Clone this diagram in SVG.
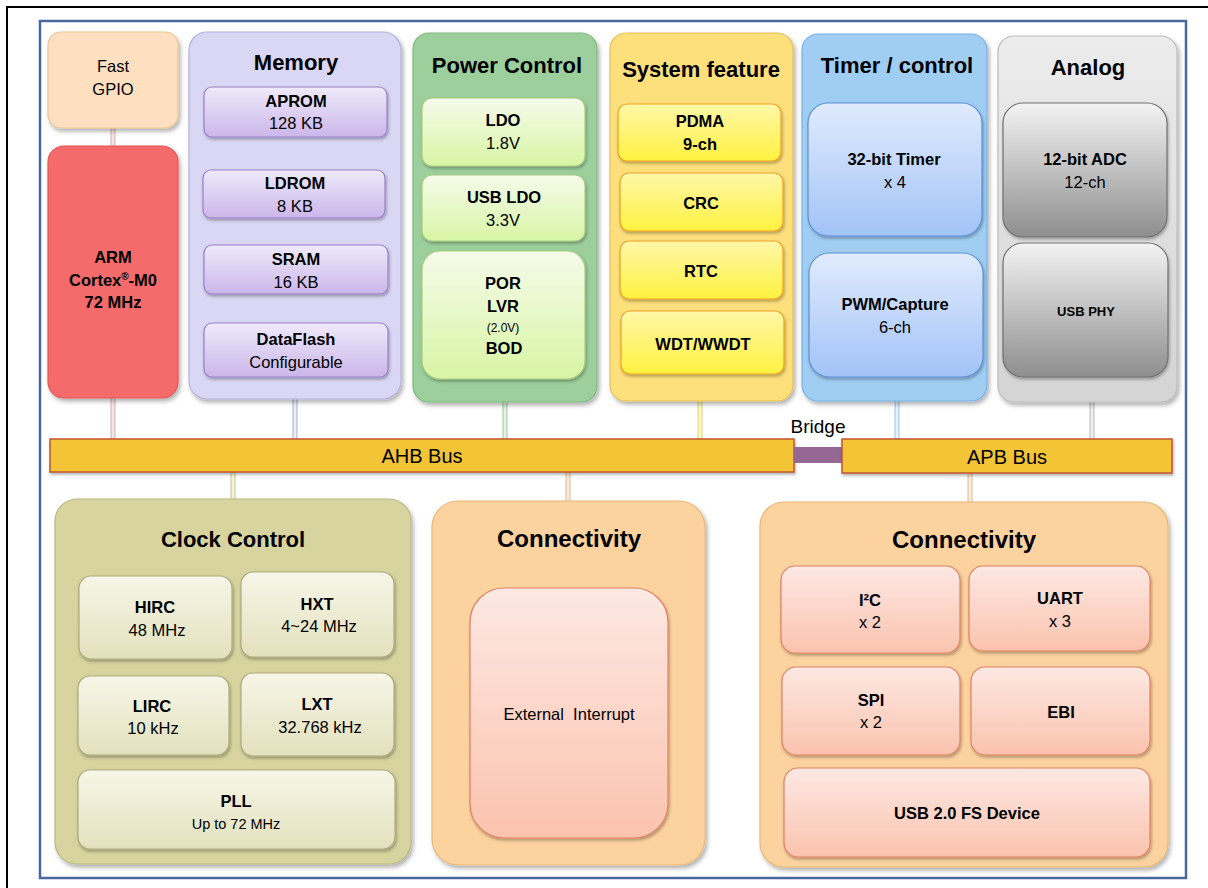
<svg xmlns="http://www.w3.org/2000/svg" width="1208" height="888" viewBox="0 0 1208 888">
<style>
text{font-family:"Liberation Sans",Arial,sans-serif;fill:#000;text-anchor:middle}
.t{font-size:22px;font-weight:bold}
.b{font-size:16.5px;font-weight:bold}
.r{font-size:16.5px}
.bus{font-size:20px}
.cont{filter:url(#sh)}
.sub{filter:url(#sh2)}
</style>
<defs>
<filter id="sh" x="-10%" y="-10%" width="130%" height="130%">
<feDropShadow dx="2" dy="3" stdDeviation="2" flood-color="#000" flood-opacity="0.3"/>
</filter>
<filter id="sh2" x="-10%" y="-10%" width="130%" height="140%">
<feDropShadow dx="1" dy="2" stdDeviation="1.5" flood-color="#000" flood-opacity="0.3"/>
</filter>
<linearGradient id="gMem" x1="0" y1="0" x2="0" y2="1"><stop offset="0" stop-color="#efeafa"/><stop offset="1" stop-color="#cbb6ea"/></linearGradient>
<linearGradient id="gPow" x1="0" y1="0" x2="0" y2="1"><stop offset="0" stop-color="#f5fbea"/><stop offset="1" stop-color="#d8f5a4"/></linearGradient>
<linearGradient id="gSys" x1="0" y1="0" x2="0" y2="1"><stop offset="0" stop-color="#fff7a8"/><stop offset="1" stop-color="#fff240"/></linearGradient>
<linearGradient id="gTim" x1="0" y1="0" x2="0" y2="1"><stop offset="0" stop-color="#e0ebfd"/><stop offset="1" stop-color="#a3c3f7"/></linearGradient>
<linearGradient id="gAna" x1="0" y1="0" x2="0" y2="1"><stop offset="0" stop-color="#f4f4f4"/><stop offset="1" stop-color="#8e8e8e"/></linearGradient>
<linearGradient id="gAnaC" x1="0" y1="0" x2="0" y2="1"><stop offset="0" stop-color="#ececec"/><stop offset="1" stop-color="#d4d4d4"/></linearGradient>
<linearGradient id="gClk" x1="0" y1="0" x2="0" y2="1"><stop offset="0" stop-color="#f7f6e8"/><stop offset="1" stop-color="#e3e1bd"/></linearGradient>
<linearGradient id="gCon" x1="0" y1="0" x2="0" y2="1"><stop offset="0" stop-color="#fde8e3"/><stop offset="1" stop-color="#fbc3ae"/></linearGradient>
</defs>

<rect x="7" y="7" width="1220" height="900" fill="#fff" stroke="#000" stroke-width="2"/>
<rect x="40" y="21" width="1146" height="857" fill="#fff" stroke="#48699c" stroke-width="2.5"/>

<g id="connectors">
<rect x="111" y="126" width="4" height="22" fill="#f5e4e4" stroke="#c8a0a0" stroke-width="0.8"/>
<rect x="111" y="396" width="4" height="45" fill="#f5e4e4" stroke="#c8a0a0" stroke-width="0.8"/>
<rect x="293" y="397" width="4" height="44" fill="#eeeef8" stroke="#9898c0" stroke-width="0.8"/>
<rect x="503" y="400" width="4" height="41" fill="#e4f4e4" stroke="#88b888" stroke-width="0.8"/>
<rect x="698" y="399" width="4" height="42" fill="#fdf8c0" stroke="#d8c860" stroke-width="0.8"/>
<rect x="895" y="399" width="4" height="42" fill="#e6f2fc" stroke="#88b4dc" stroke-width="0.8"/>
<rect x="1090" y="400" width="4" height="41" fill="#f0f0f0" stroke="#a8a8a8" stroke-width="0.8"/>
<rect x="231" y="470" width="4" height="32" fill="#f4f2dc" stroke="#b8b488" stroke-width="0.8"/>
<rect x="566" y="470" width="4" height="33" fill="#fcecd8" stroke="#d0a880" stroke-width="0.8"/>
<rect x="968" y="471" width="4" height="33" fill="#fcecd8" stroke="#d0a880" stroke-width="0.8"/>
</g>

<g id="ahb-bus">
<rect x="50" y="439" width="744" height="33" fill="#f3c436" stroke="#c0562c" stroke-width="1.5" class="sub"/>
<text x="422" y="463" class="bus">AHB Bus</text>
</g>
<g id="bridge">
<rect x="794" y="447" width="48" height="16" fill="#956793"/>
<text x="818" y="433" style="font-size:19px">Bridge</text>
</g>
<g id="apb-bus">
<rect x="842" y="439" width="330" height="34" fill="#f3c436" stroke="#c0562c" stroke-width="1.5" class="sub"/>
<text x="1007" y="464" class="bus">APB Bus</text>
</g>

<g id="fast-gpio">
<rect x="48" y="32" width="130" height="96" rx="13" fill="#fee0c0" stroke="#ebc594" stroke-width="1.2" class="cont"/>
<text x="113" y="72" class="r">Fast</text>
<text x="113" y="95" class="r">GPIO</text>
</g>

<g id="arm">
<rect x="48" y="146" width="130" height="252" rx="16" fill="#f56a6a" stroke="#e25656" stroke-width="1.2" class="cont"/>
<text x="113" y="263" class="b">ARM</text>
<text x="113" y="286" class="b">Cortex<tspan font-size="10" dy="-6">®</tspan><tspan dy="6">-M0</tspan></text>
<text x="113" y="308" class="b">72 MHz</text>
</g>

<g id="memory">
<rect x="189" y="32" width="212" height="367" rx="18" fill="#d9d7f3" stroke="#b6b2dc" stroke-width="1.2" class="cont"/>
<text x="296" y="70" class="t">Memory</text>
<rect x="204" y="87" width="183" height="50" rx="8" fill="url(#gMem)" stroke="#9a80c6" stroke-width="1.2" class="sub"/>
<text x="296" y="107" class="b">APROM</text><text x="296" y="129" class="r">128 KB</text>
<rect x="203" y="170" width="182" height="48" rx="8" fill="url(#gMem)" stroke="#9a80c6" stroke-width="1.2" class="sub"/>
<text x="295" y="189" class="b">LDROM</text><text x="295" y="212" class="r">8 KB</text>
<rect x="204" y="245" width="184" height="49" rx="8" fill="url(#gMem)" stroke="#9a80c6" stroke-width="1.2" class="sub"/>
<text x="296" y="265" class="b">SRAM</text><text x="296" y="288" class="r">16 KB</text>
<rect x="204" y="323" width="184" height="54" rx="8" fill="url(#gMem)" stroke="#9a80c6" stroke-width="1.2" class="sub"/>
<text x="296" y="345" class="b">DataFlash</text><text x="296" y="368" class="r">Configurable</text>
</g>

<g id="power-control">
<rect x="413" y="33" width="184" height="369" rx="16" fill="#9ccf9c" stroke="#80b880" stroke-width="1.2" class="cont"/>
<text x="507" y="73" class="t">Power Control</text>
<rect x="422" y="98" width="163" height="68" rx="10" fill="url(#gPow)" stroke="#a8cc80" stroke-width="1.2" class="sub"/>
<text x="503" y="126" class="b">LDO</text><text x="503" y="149" class="r">1.8V</text>
<rect x="422" y="175" width="163" height="66" rx="10" fill="url(#gPow)" stroke="#a8cc80" stroke-width="1.2" class="sub"/>
<text x="504" y="203" class="b">USB LDO</text><text x="503" y="226" class="r">3.3V</text>
<rect x="422" y="251" width="163" height="128" rx="18" fill="url(#gPow)" stroke="#a8cc80" stroke-width="1.2" class="sub"/>
<text x="503" y="289" class="b">POR</text><text x="503" y="312" class="b">LVR</text>
<text x="503" y="332" style="font-size:12px">(2.0V)</text>
<text x="504" y="354" class="b">BOD</text>
</g>

<g id="system-feature">
<rect x="610" y="33" width="183" height="368" rx="16" fill="#fde07c" stroke="#e6c05c" stroke-width="1.2" class="cont"/>
<text x="701" y="77" class="t">System feature</text>
<rect x="618" y="104" width="163" height="57" rx="9" fill="url(#gSys)" stroke="#f0a020" stroke-width="1.2" class="sub"/>
<text x="700" y="127" class="b">PDMA</text><text x="700" y="150" class="b">9-ch</text>
<rect x="620" y="173" width="163" height="58" rx="9" fill="url(#gSys)" stroke="#f0a020" stroke-width="1.2" class="sub"/>
<text x="701" y="209" class="b">CRC</text>
<rect x="620" y="241" width="163" height="58" rx="9" fill="url(#gSys)" stroke="#f0a020" stroke-width="1.2" class="sub"/>
<text x="701" y="277" class="b">RTC</text>
<rect x="621" y="311" width="163" height="63" rx="9" fill="url(#gSys)" stroke="#f0a020" stroke-width="1.2" class="sub"/>
<text x="703" y="350" class="b">WDT/WWDT</text>
</g>

<g id="timer-control">
<rect x="802" y="34" width="185" height="367" rx="16" fill="#a0cef3" stroke="#78b2e4" stroke-width="1.2" class="cont"/>
<text x="897" y="73" class="t">Timer / control</text>
<rect x="808" y="103" width="174" height="133" rx="20" fill="url(#gTim)" stroke="#5d90d6" stroke-width="1.2" class="sub"/>
<text x="894" y="165" class="b">32-bit Timer</text><text x="895" y="188" class="r">x 4</text>
<rect x="809" y="253" width="174" height="124" rx="20" fill="url(#gTim)" stroke="#5d90d6" stroke-width="1.2" class="sub"/>
<text x="895" y="310" class="b">PWM/Capture</text><text x="895" y="333" class="r">6-ch</text>
</g>

<g id="analog">
<rect x="998" y="36" width="179" height="366" rx="16" fill="url(#gAnaC)" stroke="#bcbcbc" stroke-width="1.2" class="cont"/>
<text x="1088" y="75" class="t">Analog</text>
<rect x="1003" y="103" width="164" height="134" rx="20" fill="url(#gAna)" stroke="#707070" stroke-width="1.2" class="sub"/>
<text x="1085" y="165" class="b">12-bit ADC</text><text x="1085" y="188" class="r">12-ch</text>
<rect x="1003" y="243" width="165" height="134" rx="20" fill="url(#gAna)" stroke="#707070" stroke-width="1.2" class="sub"/>
<text x="1086" y="316" style="font-size:13px;font-weight:bold">USB PHY</text>
</g>

<g id="clock-control">
<rect x="55" y="499" width="356" height="365" rx="22" fill="#d7d49f" stroke="#bcb882" stroke-width="1.2" class="cont"/>
<text x="233" y="547" class="t">Clock Control</text>
<rect x="79" y="576" width="153" height="83" rx="12" fill="url(#gClk)" stroke="#aeab80" stroke-width="1.2" class="sub"/>
<text x="155" y="613" class="b">HIRC</text><text x="157" y="636" class="r">48 MHz</text>
<rect x="241" y="572" width="153" height="85" rx="12" fill="url(#gClk)" stroke="#aeab80" stroke-width="1.2" class="sub"/>
<text x="317" y="610" class="b">HXT</text><text x="319" y="632" class="r">4~24 MHz</text>
<rect x="78" y="676" width="151" height="79" rx="12" fill="url(#gClk)" stroke="#aeab80" stroke-width="1.2" class="sub"/>
<text x="152" y="712" class="b">LIRC</text><text x="153" y="734" class="r">10 kHz</text>
<rect x="241" y="673" width="153" height="83" rx="12" fill="url(#gClk)" stroke="#aeab80" stroke-width="1.2" class="sub"/>
<text x="317" y="710" class="b">LXT</text><text x="320" y="733" class="r">32.768 kHz</text>
<rect x="78" y="770" width="317" height="79" rx="12" fill="url(#gClk)" stroke="#aeab80" stroke-width="1.2" class="sub"/>
<text x="236" y="807" class="b">PLL</text><text x="236" y="829" style="font-size:14.5px">Up to 72 MHz</text>
</g>

<g id="connectivity-ext">
<rect x="432" y="501" width="273" height="364" rx="26" fill="#fcd29f" stroke="#e9b877" stroke-width="1.2" class="cont"/>
<text x="569" y="547" style="font-size:24px;font-weight:bold">Connectivity</text>
<rect x="470" y="588" width="198" height="250" rx="34" fill="url(#gCon)" stroke="#e08262" stroke-width="1.2" class="sub"/>
<text x="569" y="720" class="r" xml:space="preserve">External  Interrupt</text>
</g>

<g id="connectivity-serial">
<rect x="760" y="502" width="408" height="365" rx="24" fill="#fcd29f" stroke="#e9b877" stroke-width="1.2" class="cont"/>
<text x="964" y="548" style="font-size:24px;font-weight:bold">Connectivity</text>
<rect x="781" y="566" width="179" height="87" rx="14" fill="url(#gCon)" stroke="#e08262" stroke-width="1.2" class="sub"/>
<text x="870" y="606" class="b">I²C</text><text x="870" y="628" class="r">x 2</text>
<rect x="969" y="566" width="181" height="85" rx="14" fill="url(#gCon)" stroke="#e08262" stroke-width="1.2" class="sub"/>
<text x="1060" y="604" class="b">UART</text><text x="1060" y="627" class="r">x 3</text>
<rect x="782" y="667" width="178" height="88" rx="14" fill="url(#gCon)" stroke="#e08262" stroke-width="1.2" class="sub"/>
<text x="871" y="706" class="b">SPI</text><text x="871" y="728" class="r">x 2</text>
<rect x="971" y="667" width="179" height="88" rx="14" fill="url(#gCon)" stroke="#e08262" stroke-width="1.2" class="sub"/>
<text x="1061" y="718" class="b">EBI</text>
<rect x="784" y="768" width="366" height="89" rx="14" fill="url(#gCon)" stroke="#e08262" stroke-width="1.2" class="sub"/>
<text x="967" y="819" class="b">USB 2.0 FS Device</text>
</g>
</svg>
